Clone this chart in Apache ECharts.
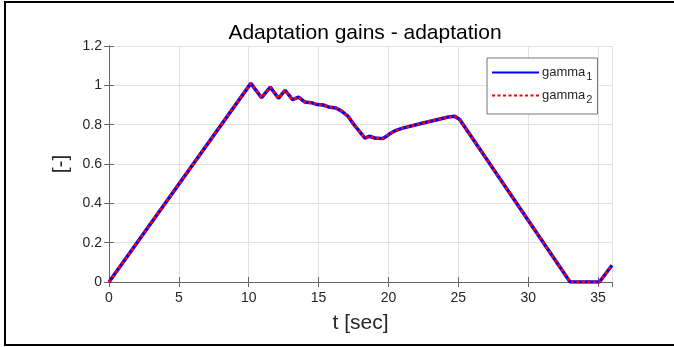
<!DOCTYPE html>
<html>
<head>
<meta charset="utf-8">
<script src="https://cdn.jsdelivr.net/npm/echarts@6/dist/echarts.min.js"></script>
<style>
  html, body { margin: 0; padding: 0; background: #fff; }
  #chart { width: 674px; height: 347px; }
</style>
</head>
<body>
<div id="chart"></div>
<script>
// Time samples (s) and the two adaptation gains
const timeSec = [0, 10.15, 10.92, 11.54, 12.13, 12.6, 13.14, 13.57, 14.02, 14.47, 14.9, 15.33,
  15.71, 16.24, 16.65, 17.12, 17.53, 18.32, 18.62, 19.03, 19.58, 19.87, 20.1, 20.5, 20.95,
  22.26, 24.29, 24.75, 25.1, 33.0, 35.1, 36];
const gamma1 = [0, 1.01, 0.937, 0.991, 0.934, 0.975, 0.927, 0.940, 0.915, 0.912, 0.902, 0.900,
  0.890, 0.885, 0.869, 0.842, 0.800, 0.732, 0.741, 0.732, 0.729, 0.741, 0.754, 0.770, 0.781,
  0.805, 0.839, 0.843, 0.826, 0, 0, 0.085];
const gamma2 = [0, 1.01, 0.937, 0.991, 0.934, 0.975, 0.927, 0.940, 0.915, 0.912, 0.902, 0.900,
  0.890, 0.885, 0.869, 0.842, 0.800, 0.732, 0.741, 0.732, 0.729, 0.741, 0.754, 0.770, 0.781,
  0.805, 0.839, 0.843, 0.826, 0, 0, 0.085];
const xTicks = [0, 5, 10, 15, 20, 25, 30, 35];
const yTicks = [0, 0.2, 0.4, 0.6, 0.8, 1, 1.2];

const FONT = '"Liberation Sans", Arial, sans-serif';
const AXIS_COLOR = '#666666';
const TEXT_COLOR = '#262626';

const pairs = (xs, ys) => xs.map((x, i) => [x, ys[i]]);

const chart = echarts.init(document.getElementById('chart'), null, { renderer: 'canvas' });

const frameAxis = {
  axisLine: { show: true, lineStyle: { color: AXIS_COLOR, width: 1 } },
  axisTick: { show: true, inside: true, length: 5, lineStyle: { color: AXIS_COLOR } },
  axisLabel: { show: false },
  splitLine: { show: false }
};

chart.setOption({
  animation: false,
  backgroundColor: '#fff',
  title: {
    text: 'Adaptation gains - adaptation',
    left: 360, top: 18, textAlign: 'center',
    textStyle: { fontFamily: FONT, fontSize: 21, fontWeight: 'normal', color: '#000' }
  },
  grid: { left: 109, right: 62, top: 46, bottom: 65 },
  xAxis: [{
    type: 'value', min: 0, max: 36, interval: 5,
    name: 't [sec]', nameLocation: 'middle', nameGap: 31,
    nameTextStyle: { fontFamily: FONT, fontSize: 21, color: TEXT_COLOR },
    axisLine: { show: true, onZero: false, lineStyle: { color: AXIS_COLOR, width: 1 } },
    axisTick: { show: true, inside: true, length: 5, lineStyle: { color: AXIS_COLOR } },
    axisLabel: {
      fontFamily: FONT, fontSize: 14, color: TEXT_COLOR, margin: 9,
      showMaxLabel: false,
      formatter: v => (xTicks.includes(v) ? String(v) : '')
    },
    splitLine: { show: true, lineStyle: { color: '#e2e2e2', width: 1 } }
  }, Object.assign({ type: 'value', min: 0, max: 36, interval: 5, position: 'top' }, frameAxis)],
  yAxis: [{
    type: 'value', min: 0, max: 1.2, interval: 0.2,
    name: '[-]', nameLocation: 'middle', nameGap: 33, nameRotate: 90,
    nameTextStyle: { fontFamily: FONT, fontSize: 21, color: TEXT_COLOR },
    axisLine: { show: true, lineStyle: { color: AXIS_COLOR, width: 1 } },
    axisTick: { show: true, inside: true, length: 5, lineStyle: { color: AXIS_COLOR } },
    axisLabel: {
      fontFamily: FONT, fontSize: 14, color: TEXT_COLOR, margin: 7,
      formatter: v => {
        const t = yTicks.find(k => Math.abs(k - v) < 1e-9);
        return t === undefined ? '' : String(t);
      }
    },
    splitLine: { show: true, lineStyle: { color: '#e2e2e2', width: 1 } }
  }, Object.assign({ type: 'value', min: 0, max: 1.2, interval: 0.2, position: 'right' }, frameAxis)],
  legend: {
    orient: 'vertical',
    left: 487, top: 58,
    padding: [8, 5, 9, 4],
    itemGap: 7,
    itemWidth: 47, itemHeight: 14,
    backgroundColor: '#fff',
    borderColor: '#777', borderWidth: 1, borderRadius: 0,
    itemStyle: { opacity: 0 },
    textStyle: {
      fontFamily: FONT, fontSize: 13, color: TEXT_COLOR, padding: [0, 0, 0, -2],
      rich: {
        sub: { fontFamily: FONT, fontSize: 11, color: TEXT_COLOR, padding: [8, 0, 0, 1] }
      }
    },
    formatter: name => name.replace(/_(\d)/, '{sub|$1}'),
    data: ['gamma_1', 'gamma_2']
  },
  series: [{
    name: 'gamma_1', type: 'line',
    data: pairs(timeSec, gamma1),
    symbol: 'none', showSymbol: false,
    lineStyle: { color: '#0000ff', width: 3.5, type: 'solid' },
    itemStyle: { color: '#0000ff' },
    z: 2
  }, {
    name: 'gamma_2', type: 'line',
    data: pairs(timeSec, gamma2),
    symbol: 'none', showSymbol: false,
    lineStyle: { color: '#ff0000', width: 2.8, type: [3, 2.5] },
    itemStyle: { color: '#ff0000' },
    z: 3
  }],
  graphic: [{
    type: 'rect',
    shape: { x: 5, y: 2, width: 700, height: 343 },
    style: { fill: 'none', stroke: '#000', lineWidth: 2 },
    silent: true, z: 100
  }]
});
</script>
</body>
</html>
